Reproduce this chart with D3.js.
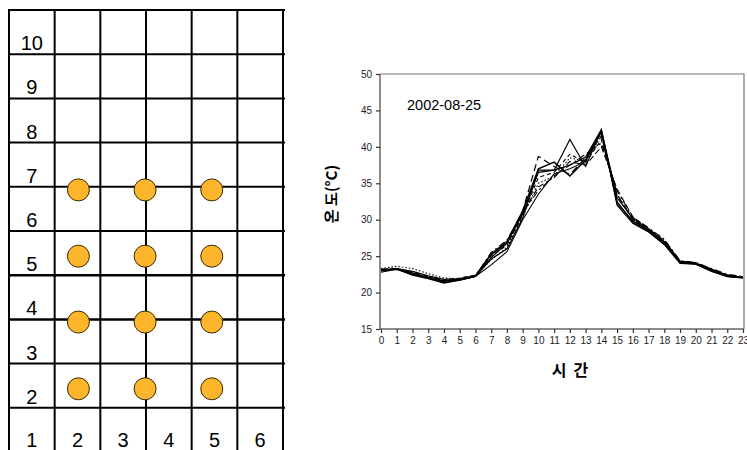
<!DOCTYPE html>
<html><head><meta charset="utf-8">
<script src="https://cdn.jsdelivr.net/npm/d3@7"></script>
<style>body{margin:0;background:#fff}svg{display:block}</style>
</head><body>
<svg id="c" width="747" height="450"></svg>
<script>
// ---------- data ----------
const gridCols = [1, 2, 3, 4, 5, 6];
const gridRows = [1, 2, 3, 4, 5, 6, 7, 8, 9, 10];
const dotCols = [2.02, 3.48, 4.94];
const dotRows = [6.43, 4.93, 3.44, 1.93];

const hours = d3.range(0, 24);
const yTicks = [15, 20, 25, 30, 35, 40, 45, 50];
const dateLabel = "2002-08-25";
const xTitle = "시  간";
const yTitle = "온 도(°C)";

const s1 = [23.0,23.3,22.9,22.3,21.8,21.9,22.3,24.8,26.8,30.8,36.5,36.8,41.0,37.3,42.3,33.0,30.2,28.7,27.0,24.3,24.0,23.2,22.4,22.1];
const s2 = [23.2,23.3,22.7,22.1,21.6,21.8,22.2,25.2,26.9,31.2,38.7,37.3,36.2,38.5,41.5,33.5,30.0,28.5,26.8,24.2,24.0,23.0,22.3,22.1];
const s3 = [22.8,23.2,22.5,22.0,21.4,21.7,22.2,23.8,25.6,30.0,33.5,36.3,37.0,38.0,42.0,32.5,29.6,28.4,26.6,24.1,23.9,23.0,22.2,22.0];
const s4 = [23.3,23.6,23.3,22.6,22.0,21.9,22.3,24.5,26.2,30.5,35.0,36.0,38.5,38.0,41.5,33.5,30.0,28.8,27.2,24.3,24.1,23.2,22.4,22.1];
const s5 = [23.1,23.3,22.6,22.0,21.5,21.8,22.3,25.5,27.2,31.0,34.0,36.0,37.5,39.0,40.5,34.0,30.3,28.9,27.3,24.4,24.1,23.3,22.5,22.2];
const s6 = [23.0,23.2,22.6,22.0,21.6,21.8,22.3,25.3,27.0,31.2,37.0,37.9,36.0,38.2,42.2,32.3,29.8,28.5,26.9,24.2,24.0,23.0,22.3,22.1];
const s7 = [23.2,23.3,22.8,22.2,21.7,22.0,22.4,25.0,26.5,30.6,35.8,36.5,39.0,37.8,41.0,33.2,30.1,28.6,27.0,24.2,24.0,23.1,22.3,22.1];
const s8 = [23.1,23.2,22.4,21.9,21.3,21.7,22.2,24.6,26.0,30.2,36.8,36.8,37.5,38.6,42.4,32.0,29.5,28.3,26.6,24.0,23.9,22.9,22.2,22.0];
const s9 = [23.0,23.3,22.7,22.1,21.6,21.9,22.3,25.2,26.7,30.9,34.5,35.8,38.0,37.5,40.0,34.2,30.4,28.8,27.1,24.3,24.1,23.2,22.4,22.1];
const seriesList = [s1, s2, s3, s4, s5, s6, s7, s8, s9];
const seriesDash = [null, "7,4", null, "1.5,2", "7,3,2,3", null, "4,3", null, "6,3"];
const seriesWidth = [1.2, 1.2, 1.1, 1.1, 1.1, 1.5, 1.1, 1.2, 1.1];

const svg = d3.select("#c");
const font = "'Liberation Sans', Arial, sans-serif";

// ---------- left grid diagram ----------
const gx = d3.scaleLinear().domain([0.5, 6.5]).range([9, 283]);
const gy = d3.scaleLinear().domain([0.5, 10.5]).range([452, 10]);
const g = svg.append("g");
const vBounds = d3.range(0.5, 7, 1);
const hBounds = d3.range(0.5, 11, 1);
g.selectAll("line.v").data(vBounds).join("line")
  .attr("x1", d => gx(d)).attr("x2", d => gx(d))
  .attr("y1", gy(10.5) - 1).attr("y2", 452)
  .attr("stroke", "#000").attr("stroke-width", 2);
g.selectAll("line.h").data(hBounds).join("line")
  .attr("x1", gx(0.5) - 1).attr("x2", gx(6.5) + 2)
  .attr("y1", d => gy(d)).attr("y2", d => gy(d))
  .attr("stroke", "#000").attr("stroke-width", d => (d === 3.5 || d === 4.5) ? 2.5 : 2);
g.selectAll("text.r").data(gridRows.slice(1)).join("text")
  .attr("x", gx(1)).attr("y", d => gy(d - 0.5) - 4)
  .attr("text-anchor", "middle").attr("font-family", font).attr("font-size", 20)
  .text(d => d);
g.selectAll("text.c").data(gridCols).join("text")
  .attr("x", d => gx(d)).attr("y", gy(0.5) - 5)
  .attr("text-anchor", "middle").attr("font-family", font).attr("font-size", 20)
  .text(d => d);
const dots = dotRows.flatMap(r => dotCols.map(c => ({c, r})));
g.selectAll("circle").data(dots).join("circle")
  .attr("cx", d => gx(d.c)).attr("cy", d => gy(d.r)).attr("r", 11)
  .attr("fill", "#FDB52C").attr("stroke", "#3a2a00").attr("stroke-width", 1);

// ---------- right line chart ----------
const x = d3.scalePoint().domain(hours).range([381, 743]);
const y = d3.scaleLinear().domain([15, 50]).range([329, 74]);
const ch = svg.append("g");
ch.append("path").attr("d", `M380,${y(50)}H744V${y(15)}`)
  .attr("fill", "none").attr("stroke", "#777").attr("stroke-width", 1.2);

const yAxis = ch.append("g").attr("transform", "translate(380,0)")
  .call(d3.axisLeft(y).tickValues(yTicks).tickSize(4).tickPadding(4));
const xAxis = ch.append("g").attr("transform", `translate(0,${y(15)})`)
  .call(d3.axisBottom(x).tickSize(4).tickPadding(4));
[yAxis, xAxis].forEach(a => {
  a.select(".domain").attr("stroke", "#666").attr("stroke-width", 1.5);
  a.selectAll(".tick line").attr("stroke", "#333").attr("stroke-width", 1.2);
  a.selectAll("text").attr("font-family", font).attr("font-size", 10).attr("fill", "#222");
});
yAxis.select(".domain").attr("d", `M0,${y(50)}V${y(15)}`);
xAxis.select(".domain").attr("d", `M379,0H744`);

const line = d3.line().x((d, i) => x(hours[i])).y(d => y(d));
ch.selectAll("path.s").data(seriesList).join("path")
  .attr("class", "s").attr("d", line).attr("fill", "none")
  .attr("stroke", "#000")
  .attr("stroke-width", (d, i) => seriesWidth[i])
  .attr("stroke-dasharray", (d, i) => seriesDash[i]);

ch.append("text").attr("x", 407).attr("y", 110)
  .attr("font-family", font).attr("font-size", 14.5).text(dateLabel);
ch.append("text").attr("x", 570).attr("y", 376).attr("text-anchor", "middle")
  .attr("font-family", "'Noto Sans CJK KR', sans-serif").attr("font-weight", "bold")
  .attr("font-size", 16).attr("xml:space", "preserve").style("white-space", "pre").text(xTitle);
ch.append("text").attr("transform", "translate(337,194) rotate(-90)")
  .attr("text-anchor", "middle")
  .attr("font-family", "'Noto Sans CJK KR', sans-serif").attr("font-weight", "bold")
  .attr("font-size", 15).text(yTitle);
</script>
</body></html>
